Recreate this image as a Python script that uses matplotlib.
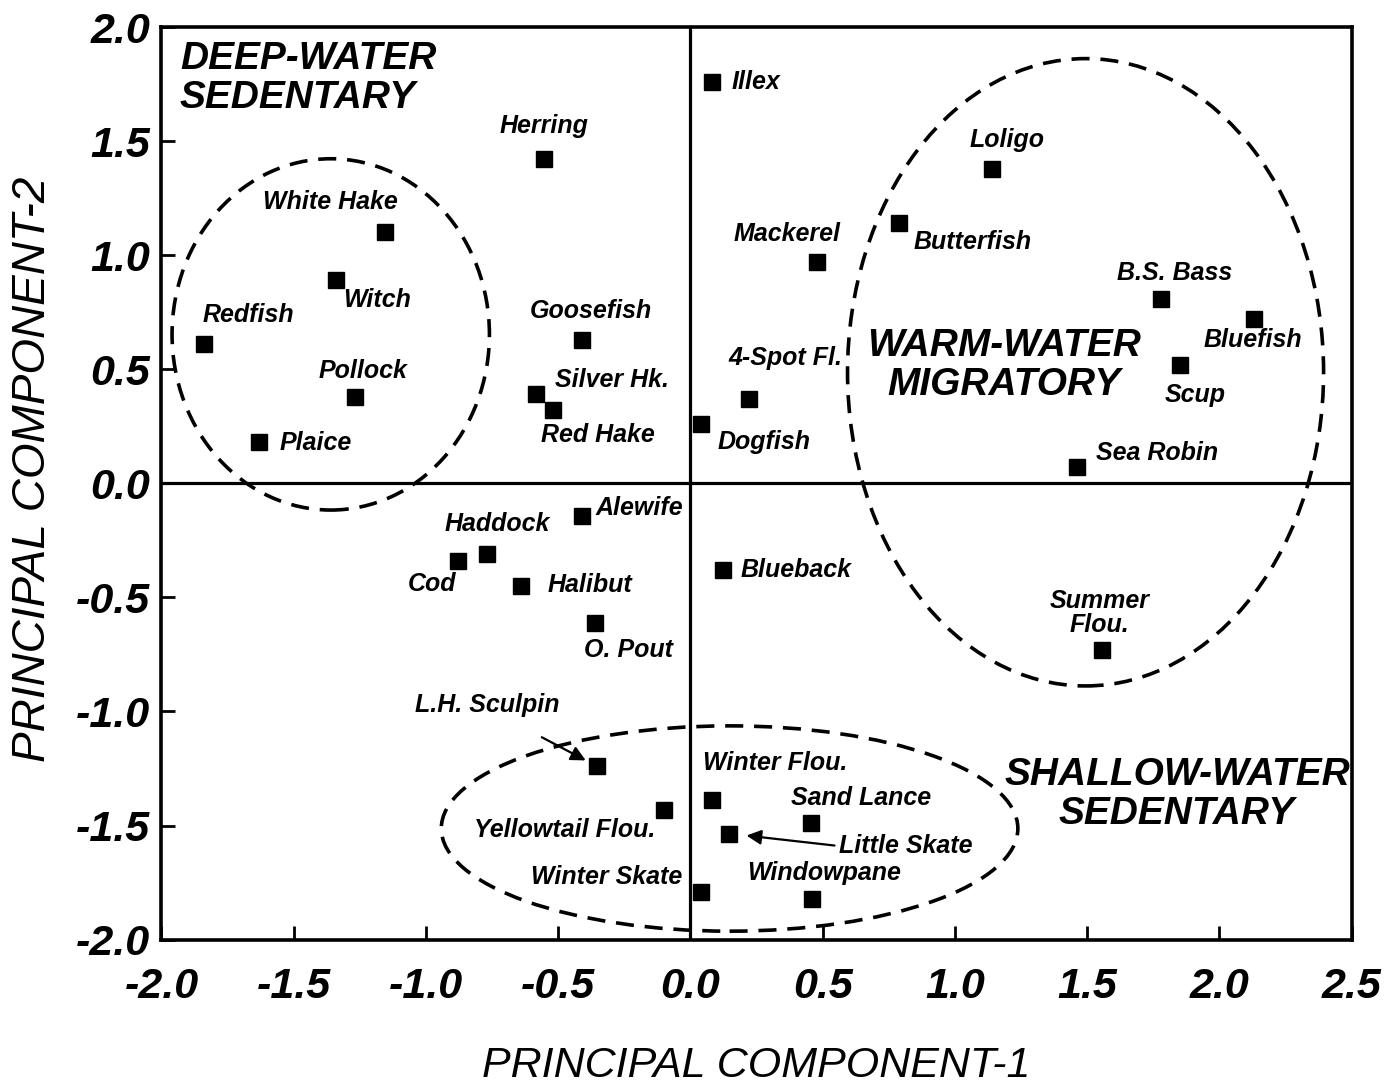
import matplotlib.pyplot as plt
from matplotlib.patches import Ellipse

plt.rcParams["font.family"] = ["Liberation Sans", "DejaVu Sans"]

# species scores on the first two principal components
species = [
    "Illex", "Herring", "Loligo", "Butterfish", "White Hake", "Mackerel",
    "Witch", "B.S. Bass", "Bluefish", "Redfish", "Goosefish", "Scup",
    "Pollock", "Silver Hk.", "4-Spot Fl.", "Red Hake", "Dogfish", "Plaice",
    "Sea Robin", "Alewife", "Haddock", "Cod", "Halibut", "Blueback",
    "O. Pout", "Summer\nFlou.", "L.H. Sculpin", "Yellowtail Flou.",
    "Winter Flou.", "Sand Lance", "Little Skate", "Winter Skate", "Windowpane",
]
pc1 = [
    0.08, -0.555, 1.14, 0.79, -1.156, 0.48,
    -1.34, 1.78, 2.13, -1.84, -0.41, 1.85,
    -1.27, -0.585, 0.22, -0.52, 0.04, -1.63,
    1.46, -0.41, -0.77, -0.88, -0.64, 0.125,
    -0.36, 1.555, -0.354, -0.10,
    0.08, 0.456, 0.144, 0.04, 0.46,
]
pc2 = [
    1.76, 1.42, 1.38, 1.14, 1.10, 0.97,
    0.89, 0.81, 0.72, 0.61, 0.63, 0.52,
    0.38, 0.39, 0.37, 0.32, 0.26, 0.18,
    0.07, -0.145, -0.31, -0.34, -0.45, -0.38,
    -0.61, -0.73, -1.24, -1.43,
    -1.39, -1.49, -1.535, -1.79, -1.82,
]

# groupings: (centre pc1, centre pc2, width, height)
groups = {
    "DEEP-WATER\nSEDENTARY": (-1.36, 0.653, 1.20, 1.54),
    "WARM-WATER\nMIGRATORY": (1.494, 0.487, 1.80, 2.75),
    "SHALLOW-WATER\nSEDENTARY": (0.148, -1.513, 2.18, 0.90),
}

# label placement: offset in pixels from the marker, alignment
label_pos = {
    "Illex": (20, 0, "left"),
    "Herring": (0, 33, "center"),
    "Loligo": (15, 29, "center"),
    "Butterfish": (14, -19, "left"),
    "White Hake": (-54, 30, "center"),
    "Mackerel": (-30, 28, "center"),
    "Witch": (7, -20, "left"),
    "B.S. Bass": (13, 26, "center"),
    "Bluefish": (-1, -21, "center"),
    "Redfish": (45, 29, "center"),
    "Goosefish": (9, 29, "center"),
    "Scup": (15, -30, "center"),
    "Pollock": (8, 26, "center"),
    "Silver Hk.": (19, 14, "left"),
    "4-Spot Fl.": (37, 41, "center"),
    "Red Hake": (-12, -25, "left"),
    "Dogfish": (17, -18, "left"),
    "Plaice": (20, -1, "left"),
    "Sea Robin": (19, 14, "left"),
    "Alewife": (14, 8, "left"),
    "Haddock": (10, 30, "center"),
    "Cod": (-26, -23, "center"),
    "Halibut": (26, 1, "left"),
    "Blueback": (17, 0, "left"),
    "O. Pout": (-11, -27, "left"),
    "Summer\nFlou.": (-2, 37, "center"),
    "L.H. Sculpin": (-110, 61, "center"),
    "Yellowtail Flou.": (-99, -20, "center"),
    "Winter Flou.": (-9, 37, "left"),
    "Sand Lance": (50, 25, "center"),
    "Little Skate": (110, -12, "left"),
    "Winter Skate": (-19, 15, "right"),
    "Windowpane": (12, 26, "center"),
}

# arrows: tail offset in pixels, shrink at head (points)
arrows = {
    "L.H. Sculpin": ((-55, 29), 9),
    "Little Skate": ((106, -12), 13),
}

fig = plt.figure(figsize=(13.92, 10.85), dpi=100)
ax = fig.add_axes([0.116, 0.134, 0.855, 0.841])

ax.set_xlim(-2.0, 2.5)
ax.set_ylim(-2.0, 2.0)
ax.axhline(0, color="black", linewidth=2.3, zorder=1)
ax.axvline(0, color="black", linewidth=2.3, zorder=1)

for name, (cx, cy, w, h) in groups.items():
    ell = Ellipse((cx, cy), w, h, fill=False, edgecolor="black",
                  linewidth=2.6, linestyle=(0, (5, 3)), zorder=2)
    ax.add_patch(ell)

ax.plot(pc1, pc2, "s", color="black", markersize=11, zorder=3)

for name, x, y in zip(species, pc1, pc2):
    dx, dy, ha = label_pos[name]
    ax.annotate(name, (x, y), xytext=(dx, dy), textcoords="offset pixels",
                ha=ha, va="center", fontsize=18, fontweight="bold",
                style="italic", linespacing=1.0, zorder=4)

for name, ((tx, ty), shrink) in arrows.items():
    i = species.index(name)
    ax.annotate("", (pc1[i], pc2[i]), xytext=(tx, ty),
                textcoords="offset pixels",
                arrowprops=dict(arrowstyle="-|>", color="black", lw=1.6,
                                mutation_scale=22, shrinkA=0, shrinkB=shrink))

# group titles
title_kw = dict(fontsize=28, fontweight="bold", style="italic", linespacing=1.1)
ax.text(-1.93, 1.776, "DEEP-WATER\nSEDENTARY", ha="left", va="center", **title_kw)
ax.text(1.186, 0.517, "WARM-WATER\nMIGRATORY", ha="center", va="center", **title_kw)
ax.text(1.84, -1.364, "SHALLOW-WATER\nSEDENTARY", ha="center", va="center", **title_kw)

ax.set_xticks([-2.0, -1.5, -1.0, -0.5, 0.0, 0.5, 1.0, 1.5, 2.0, 2.5])
ax.set_yticks([-2.0, -1.5, -1.0, -0.5, 0.0, 0.5, 1.0, 1.5, 2.0])
ax.set_xticklabels([f"{v:.1f}" for v in ax.get_xticks()])
ax.set_yticklabels([f"{v:.1f}" for v in ax.get_yticks()])
ax.tick_params(direction="in", length=10, width=2, labelsize=31)
ax.tick_params(axis="x", pad=20)
ax.tick_params(axis="y", pad=8)
for lab in ax.get_xticklabels() + ax.get_yticklabels():
    lab.set_fontweight("bold")
    lab.set_fontstyle("italic")

for sp in ax.spines.values():
    sp.set_linewidth(2.6)

ax.set_xlabel("PRINCIPAL COMPONENT-1", fontsize=31, style="italic", va="center")
ax.set_ylabel("PRINCIPAL COMPONENT-2", fontsize=33, style="italic",
              ha="center", va="center", rotation_mode="anchor")
ax.xaxis.set_label_coords(0.5, -0.138)
ax.yaxis.set_label_coords(-0.108, 0.515)

fig.savefig("out.png", dpi=100)
